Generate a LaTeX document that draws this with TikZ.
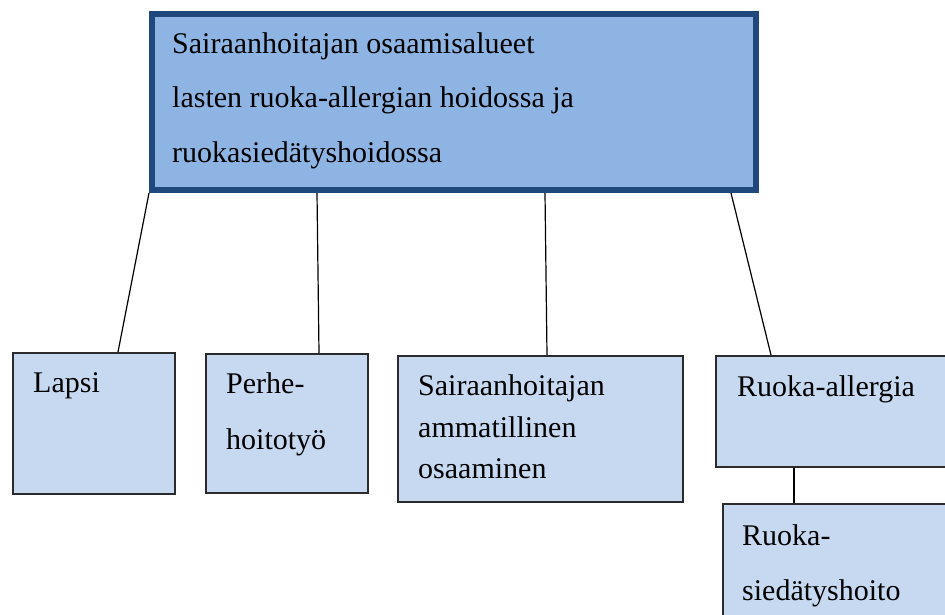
\documentclass[tikz,border=0pt]{standalone}
\usepackage{fontspec}
\setmainfont{Liberation Serif}
\usetikzlibrary{backgrounds}
\definecolor{topfill}{HTML}{8EB4E3}
\definecolor{topborder}{HTML}{1F497D}
\definecolor{subfill}{HTML}{C6D9F1}
\definecolor{subborder}{HTML}{2B2B2B}
\tikzset{
  topbox/.style={draw=topborder, line width=6pt, fill=topfill, rectangle, anchor=north west, inner sep=0pt},
  subbox/.style={draw=subborder, line width=1.8pt, fill=subfill, rectangle, anchor=north west, inner sep=0pt},
  txt/.style={anchor=base west, inner sep=0pt, font=\fontsize{30}{36}\selectfont},
  conn/.style={draw=black, line width=1.2pt}
}
\begin{document}
\begin{tikzpicture}[x=1pt,y=-1pt]
\useasboundingbox (0,0) rectangle (945,615);
\clip (0,0) rectangle (945,615);
% boxes
\node[topbox, minimum width=604pt, minimum height=176pt] (top) at (149,11) {};
\node[subbox, minimum width=162pt, minimum height=141pt] (lapsi) at (12,352) {};
\node[subbox, minimum width=162pt, minimum height=139pt] (perhe) at (205,353) {};
\node[subbox, minimum width=285pt, minimum height=146pt] (sair) at (397,355) {};
\node[subbox, minimum width=250pt, minimum height=111pt] (ruoka) at (715,355) {};
\node[subbox, minimum width=240pt, minimum height=130pt] (sied) at (722,503) {};
% connectors
\begin{scope}[on background layer]
\draw[conn] (top.south west) -- ([xshift=106pt]lapsi.north west);
\draw[conn] ([xshift=168pt]top.south west) -- ([xshift=114pt]perhe.north west);
\draw[conn] ([xshift=396pt]top.south west) -- ([xshift=150pt]sair.north west);
\draw[conn] ([xshift=582pt]top.south west) -- ([xshift=56pt]ruoka.north west);
\draw[conn] ([xshift=79pt]ruoka.south west) -- ([xshift=72pt]sied.north west);
\end{scope}
% texts
\node[txt] (t1) at (172,54) {Sairaanhoitajan osaamisalueet};
\node[txt] (t2) at (172,108) {lasten ruoka-allergian hoidossa ja};
\node[txt] (t3) at (172,163) {ruokasiedätyshoidossa};
\node[txt] (l1) at (33,392) {Lapsi};
\node[txt] (p1) at (226,393) {Perhe-};
\node[txt] (p2) at (226,449) {hoitotyö};
\node[txt] (s1) at (418,395) {Sairaanhoitajan};
\node[txt] (s2) at (418,437) {ammatillinen};
\node[txt] (s3) at (418,478) {osaaminen};
\node[txt] (r1) at (737,396) {Ruoka-allergia};
\node[txt] (d1) at (742,545) {Ruoka-};
\node[txt] (d2) at (742,600) {siedätyshoito};
\end{tikzpicture}
\end{document}
